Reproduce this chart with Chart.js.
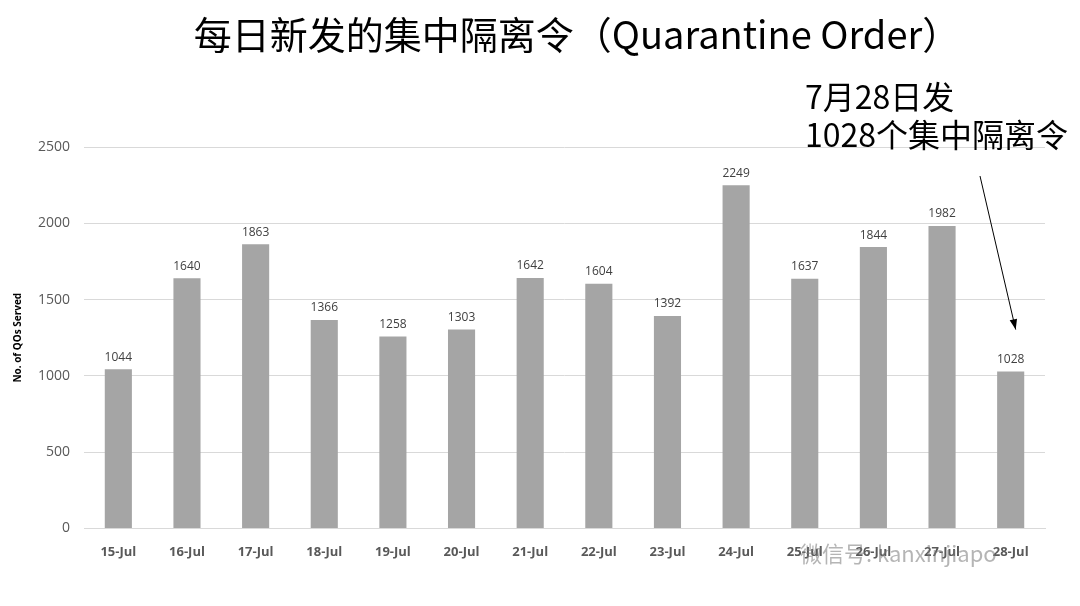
<!DOCTYPE html>
<html>
<head>
<meta charset="utf-8">
<script src="https://cdn.jsdelivr.net/npm/chart.js@4/dist/chart.umd.min.js"></script>
<style>
  html, body { margin: 0; padding: 0; background: #fff; }
  #wrap { width: 1080px; height: 606px; position: relative; }
</style>
</head>
<body>
<div id="wrap"><canvas id="c" width="1080" height="606"></canvas></div>
<script>
const days = ['15-Jul', '16-Jul', '17-Jul', '18-Jul', '19-Jul', '20-Jul', '21-Jul',
  '22-Jul', '23-Jul', '24-Jul', '25-Jul', '26-Jul', '27-Jul', '28-Jul']
const ordersServed = [1044, 1640, 1863, 1366, 1258, 1303, 1642, 1604, 1392, 2249, 1637, 1844, 1982, 1028]
const yTicks = [0, 500, 1000, 1500, 2000, 2500]

const cjk = '"Noto Sans CJK SC", "Noto Sans", sans-serif'
const bodyFont = '"Open Sans", "Noto Sans", sans-serif'

// title, callout, arrow, value labels
const extras = {
  id: 'extras',
  afterDatasetsDraw(chart) {
    const ctx = chart.ctx
    const meta = chart.getDatasetMeta(0)
    ctx.save()
    ctx.fillStyle = '#404040'
    ctx.font = '12px ' + bodyFont
    ctx.textAlign = 'center'
    ctx.textBaseline = 'bottom'
    meta.data.forEach((bar, i) => {
      ctx.fillText(ordersServed[i], bar.x, bar.y - 6)
    })
    ctx.restore()
  },
  afterDraw(chart) {
    const ctx = chart.ctx
    ctx.save()
    ctx.fillStyle = '#000'
    ctx.textBaseline = 'middle'
    ctx.textAlign = 'center'
    ctx.font = '38px ' + cjk
    ctx.fillText('每日新发的集中隔离令（Quarantine Order）', 577, 35)

    ctx.textAlign = 'left'
    ctx.font = '32px ' + cjk
    ctx.fillText('7月28日发', 805, 97)
    ctx.fillText('1028个集中隔离令', 805, 135)

    // arrow to last bar
    const last = chart.getDatasetMeta(0).data[days.length - 1]
    const x0 = 980, y0 = 176
    const x1 = last.x + 5, y1 = last.y - 42
    ctx.strokeStyle = '#000'
    ctx.lineWidth = 1
    ctx.beginPath()
    ctx.moveTo(x0, y0)
    ctx.lineTo(x1, y1)
    ctx.stroke()
    const ang = Math.atan2(y1 - y0, x1 - x0)
    ctx.beginPath()
    ctx.moveTo(x1, y1)
    ctx.lineTo(x1 - 11 * Math.cos(ang - 0.35), y1 - 11 * Math.sin(ang - 0.35))
    ctx.lineTo(x1 - 11 * Math.cos(ang + 0.35), y1 - 11 * Math.sin(ang + 0.35))
    ctx.closePath()
    ctx.fillStyle = '#000'
    ctx.fill()

    // wechat watermark
    ctx.fillStyle = 'rgba(120,120,120,0.55)'
    ctx.font = '22px ' + cjk
    ctx.fillText('微信号: kanxinjiapo', 800, 554)
    ctx.restore()
  }
}

new Chart(document.getElementById('c'), {
  type: 'bar',
  data: {
    labels: days,
    datasets: [{
      data: ordersServed,
      backgroundColor: '#a5a5a5',
      barPercentage: 0.5,
      categoryPercentage: 0.79
    }]
  },
  options: {
    responsive: false,
    animation: false,
    layout: { padding: { top: 147, left: 0, right: 35, bottom: 38 } },
    plugins: {
      legend: { display: false },
      tooltip: { enabled: false }
    },
    scales: {
      x: {
        grid: { display: false },
        border: { color: '#d9d9d9', width: 1 },
        ticks: {
          color: '#595959',
          font: { family: bodyFont, size: 13, weight: 'bold' },
          padding: 8,
          maxRotation: 0
        }
      },
      y: {
        min: 0,
        max: 2500,
        afterBuildTicks(axis) {
          axis.ticks = yTicks.map(v => ({ value: v }))
        },
        grid: { color: '#d9d9d9', drawTicks: false },
        border: { display: false },
        ticks: {
          color: '#595959',
          font: { family: bodyFont, size: 14 },
          padding: 14,
          callback: v => String(v)
        },
        title: {
          display: true,
          text: 'No. of QOs Served',
          color: '#000',
          font: { family: bodyFont, size: 10, weight: 'bold' },
          padding: { top: 12, bottom: 0 }
        }
      }
    }
  },
  plugins: [extras]
})
</script>
</body>
</html>
